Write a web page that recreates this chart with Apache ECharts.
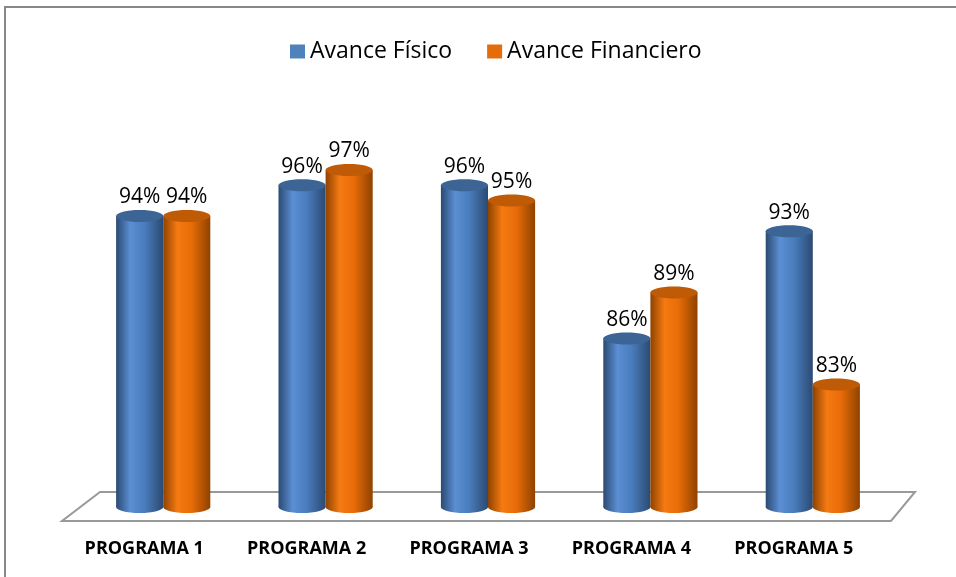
<!DOCTYPE html>
<html>
<head>
<meta charset="utf-8">
<script src="https://cdn.jsdelivr.net/npm/echarts@6/dist/echarts.min.js"></script>
<style>
html, body { margin: 0; padding: 0; background: #fff; }
#main { width: 956px; height: 577px; }
</style>
</head>
<body>
<div id="main"></div>
<script>
// datos
var categories = ['PROGRAMA 1', 'PROGRAMA 2', 'PROGRAMA 3', 'PROGRAMA 4', 'PROGRAMA 5'];
var fisico = [94, 96, 96, 86, 93];
var financiero = [94, 97, 95, 89, 83];
var seriesNames = ['Avance Físico', 'Avance Financiero'];

var FONT = '"Open Sans", "Liberation Sans", Arial, sans-serif';
var BASE = 75;

function cylinder(side, dark, light, mid, topColor) {
    return function (params, api) {
        var idx = api.value(0), v = api.value(1);
        var top = api.coord([idx, v]);
        var base = api.coord([idx, BASE]);
        var band = api.size([1, 0])[0];
        var w = band * 0.29;
        var cx = top[0] + side * w / 2;
        var x0 = cx - w / 2;
        var ry = 6;
        var grad = new echarts.graphic.LinearGradient(0, 0, 1, 0, [
            {offset: 0, color: dark},
            {offset: 0.3, color: light},
            {offset: 0.6, color: mid},
            {offset: 1, color: dark}
        ]);
        return {
            type: 'group',
            children: [
                {type: 'ellipse', shape: {cx: cx, cy: base[1], rx: w / 2, ry: ry}, style: {fill: grad}},
                {type: 'rect', shape: {x: x0, y: top[1], width: w, height: base[1] - top[1]}, style: {fill: grad}},
                {type: 'ellipse', shape: {cx: cx, cy: top[1], rx: w / 2, ry: ry}, style: {fill: topColor}},
                {type: 'text', style: {text: v + '%', x: cx, y: top[1] - ry - 2, align: 'center', verticalAlign: 'bottom',
                    fill: '#000', font: '21px ' + FONT}}
            ]
        };
    };
}

var chart = echarts.init(document.getElementById('main'));
chart.setOption({
    animation: false,
    graphic: [
        {type: 'rect', z: -10, shape: {x: 5, y: 7, width: 1000, height: 600},
            style: {fill: 'none', stroke: '#888', lineWidth: 2}},
        {type: 'polygon', z: -5, shape: {points: [[100, 492], [915, 492], [891, 521], [62, 521]]},
            style: {fill: '#fff', stroke: '#999', lineWidth: 2}}
    ],
    legend: {
        top: 35,
        left: 285,
        icon: 'rect',
        itemWidth: 15,
        itemHeight: 14,
        itemGap: 35,
        textStyle: {fontSize: 23, color: '#000', fontFamily: FONT},
        data: seriesNames
    },
    grid: {left: 82, right: 62, top: 124, bottom: 70},
    xAxis: {
        type: 'category',
        data: categories,
        axisLine: {show: false},
        axisTick: {show: false},
        axisLabel: {margin: 33, fontSize: 18, fontWeight: 'bold', color: '#000', fontFamily: FONT,
            padding: [0, 38, 0, 0]}
    },
    yAxis: {
        type: 'value',
        min: BASE,
        max: 100,
        show: false
    },
    series: [
        {
            name: seriesNames[0],
            type: 'custom',
            itemStyle: {color: '#4F81BD'},
            encode: {x: 0, y: 1},
            data: fisico.map(function (v, i) { return [i, v]; }),
            renderItem: cylinder(-1, '#2b4a72', '#5b8ed3', '#4a7dbd', '#3c6494')
        },
        {
            name: seriesNames[1],
            type: 'custom',
            itemStyle: {color: '#E46C0A'},
            encode: {x: 0, y: 1},
            data: financiero.map(function (v, i) { return [i, v]; }),
            renderItem: cylinder(1, '#8f4200', '#f57a12', '#e86c08', '#bf5a06')
        }
    ]
});
</script>
</body>
</html>
